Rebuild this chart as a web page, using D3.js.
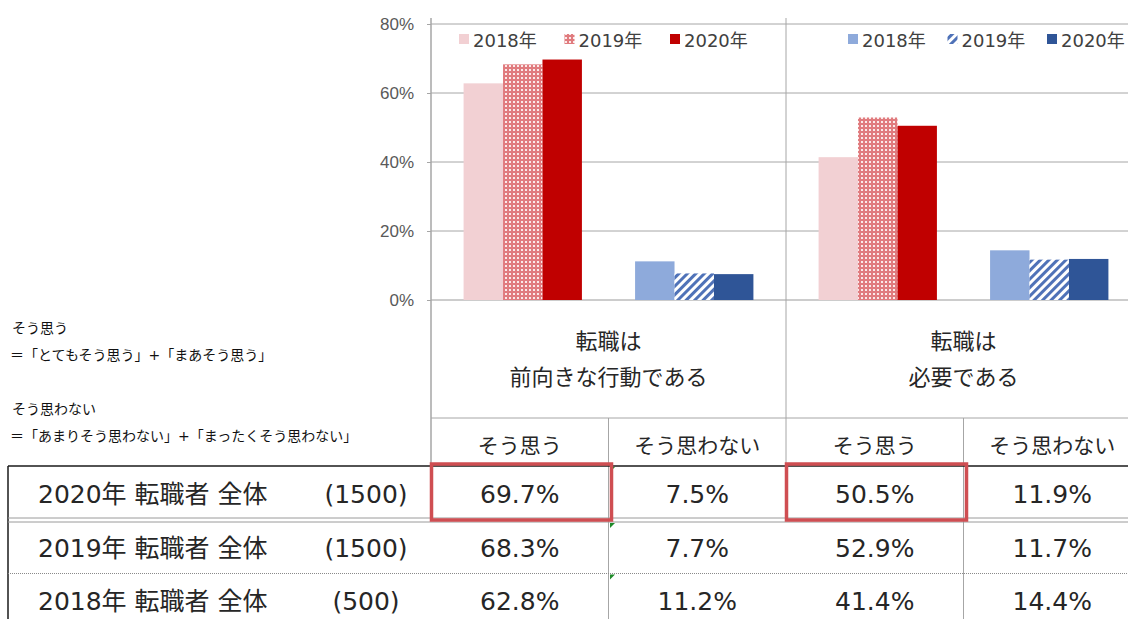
<!DOCTYPE html>
<html>
<head>
<meta charset="utf-8">
<script src="https://cdn.jsdelivr.net/npm/d3@7"></script>
<style>
  body { margin: 0; background: #fff; }
  svg { display: block; font-family: "DejaVu Sans", "Noto Sans CJK JP", sans-serif; }
</style>
</head>
<body>
<div id="chart"></div>
<script>
// questions (two panels) and answers (two clusters in each panel)
var questions = ['転職は前向きな行動である', '転職は必要である'];
var questionLines = [['転職は', '前向きな行動である'], ['転職は', '必要である']];
var answers = ['そう思う', 'そう思わない'];
var years = ['2018年', '2019年', '2020年'];

// values per column: Q1 そう思う, Q1 そう思わない, Q2 そう思う, Q2 そう思わない
var value2020 = [69.7, 7.5, 50.5, 11.9];
var value2019 = [68.3, 7.7, 52.9, 11.7];
var value2018 = [62.8, 11.2, 41.4, 14.4];

// table rows
var rowLabels = ['2020年 転職者 全体', '2019年 転職者 全体', '2018年 転職者 全体'];
var rowCounts = ['(1500)', '(1500)', '(500)'];
var yTicks = [0, 20, 40, 60, 80];

var noteLines = ['そう思う', '＝「とてもそう思う」+「まあそう思う」', 'そう思わない', '＝「あまりそう思わない」+「まったくそう思わない」'];

var width = 1128, height = 619;

var svg = d3.select('#chart')
  .append('svg')
  .attr('width', width)
  .attr('height', height);

var defs = svg.append('defs');

// dotted red pattern (2019, そう思う)
var pRed = defs.append('pattern')
  .attr('id', 'pat-red')
  .attr('patternUnits', 'userSpaceOnUse')
  .attr('width', 4).attr('height', 4);
pRed.append('rect').attr('width', 4).attr('height', 4).attr('fill', '#e07b7e');
pRed.append('rect').attr('x', 1).attr('y', 1).attr('width', 2).attr('height', 2).attr('fill', '#fbe9e9');

// diagonal blue pattern (2019, そう思わない)
var pBlue = defs.append('pattern')
  .attr('id', 'pat-blue')
  .attr('patternUnits', 'userSpaceOnUse')
  .attr('width', 6).attr('height', 6)
  .attr('patternTransform', 'rotate(45)');
pBlue.append('rect').attr('width', 6).attr('height', 6).attr('fill', '#ffffff');
pBlue.append('rect').attr('width', 3).attr('height', 6).attr('fill', '#4f72b8');

var colors = {
  'そう思う': ['#f2d0d3', 'url(#pat-red)', '#c00000'],
  'そう思わない': ['#8eaadb', 'url(#pat-blue)', '#2f5597']
};

// Scales
var x_q = d3.scaleBand().domain(questions).range([431, 1141]);
var x_a = d3.scaleBand().domain(answers).range([0, x_q.bandwidth()])
  .paddingInner(0.31).paddingOuter(0.19);
var x_y = d3.scaleBand().domain(years).range([0, x_a.bandwidth()]);
var y_scale = d3.scaleLinear().domain([0, 80]).range([300, 24]);

var columns = d3.range(4);
var x_col = d3.scaleBand().domain(columns).range([431, 1141]);

// gridlines
svg.append('g')
  .selectAll('line')
  .data(yTicks)
  .enter()
  .append('line')
  .attr('x1', 431).attr('x2', width)
  .attr('y1', function(d){ return y_scale(d); })
  .attr('y2', function(d){ return y_scale(d); })
  .attr('stroke', function(d){ return d === 0 ? '#9a9a9a' : '#a6a6a6'; })
  .attr('stroke-width', 1);

// y axis
var y_axis = d3.axisLeft(y_scale)
  .tickValues(yTicks)
  .tickSize(4)
  .tickPadding(13)
  .tickFormat(function(d){ return d + '%'; });
var yg = svg.append('g')
  .attr('transform', 'translate(431,0)')
  .call(y_axis);
yg.select('.domain').remove();
yg.selectAll('line').attr('stroke', '#a6a6a6');
yg.selectAll('text')
  .attr('fill', '#595959')
  .style('font-size', '17px');

// bars
function valuesFor(year) {
  if (year === '2018年') return value2018;
  if (year === '2019年') return value2019;
  return value2020;
}
var barData = [];
questions.forEach(function(q, qi){
  answers.forEach(function(a, ai){
    years.forEach(function(yr, yi){
      barData.push({q: q, a: a, yr: yr, yi: yi, v: valuesFor(yr)[qi * 2 + ai]});
    });
  });
});

svg.append('g').selectAll('rect')
  .data(barData)
  .enter()
  .append('rect')
  .attr('x', function(d){ return x_q(d.q) + x_a(d.a) + x_y(d.yr); })
  .attr('width', x_y.bandwidth())
  .attr('y', function(d){ return y_scale(d.v); })
  .attr('height', function(d){ return y_scale(0) - y_scale(d.v); })
  .attr('fill', function(d){ return colors[d.a][d.yi]; });

// structural lines: axis + panel divider
svg.append('line')
  .attr('x1', 431).attr('x2', 431).attr('y1', 18).attr('y2', 466)
  .attr('stroke', '#a6a6a6').attr('stroke-width', 1.5);
svg.append('line')
  .attr('x1', 786).attr('x2', 786).attr('y1', 18).attr('y2', 466)
  .attr('stroke', '#a6a6a6').attr('stroke-width', 1);

// legends
var legendStart = [459, 848];
var legendStep = [105.5, 99.5];
answers.forEach(function(a, i){
  var lg = svg.append('g');
  years.forEach(function(yr, yi){
    var lx = legendStart[i] + yi * legendStep[i];
    lg.append('rect')
      .attr('x', lx).attr('y', 34)
      .attr('width', 10).attr('height', 10)
      .attr('fill', colors[a][yi]);
    lg.append('text')
      .attr('x', lx + 14).attr('y', 47)
      .attr('fill', '#404040')
      .style('font-size', '18px')
      .text(yr);
  });
});

// category labels
svg.append('g').selectAll('text')
  .data(questions)
  .enter()
  .append('text')
  .attr('text-anchor', 'middle')
  .attr('fill', '#262626')
  .style('font-size', '22px')
  .each(function(d, i){
    var t = d3.select(this);
    questionLines[i].forEach(function(line, li){
      t.append('tspan')
        .attr('x', x_q(d) + x_q.bandwidth() / 2)
        .attr('y', 349 + li * 36)
        .text(line);
    });
  });

// notes on the left
svg.append('g').selectAll('text')
  .data(noteLines)
  .enter()
  .append('text')
  .attr('x', function(d, i){ return i % 2 ? 10 : 12; })
  .attr('y', function(d, i){ return [333, 360, 414, 441][i]; })
  .attr('fill', '#111')
  .style('font-size', '14px')
  .text(function(d){ return d; });

// table header
svg.append('line')
  .attr('x1', 431).attr('x2', width).attr('y1', 418).attr('y2', 418)
  .attr('stroke', '#a6a6a6');
svg.append('g').selectAll('line')
  .data([1, 3])
  .enter()
  .append('line')
  .attr('x1', function(d){ return x_col(d); })
  .attr('x2', function(d){ return x_col(d); })
  .attr('y1', 418).attr('y2', height)
  .attr('stroke', '#a6a6a6');
svg.append('g').selectAll('text')
  .data(columns)
  .enter()
  .append('text')
  .attr('x', function(d){ return x_col(d) + x_col.bandwidth() / 2; })
  .attr('y', 453)
  .attr('text-anchor', 'middle')
  .attr('fill', '#262626')
  .style('font-size', '21px')
  .text(function(d){ return answers[d % 2]; });

// table body lines
svg.append('line')
  .attr('x1', 8).attr('x2', width).attr('y1', 466).attr('y2', 466)
  .attr('stroke', '#1a1a1a').attr('stroke-width', 1.5);
svg.append('line')
  .attr('x1', 8).attr('x2', 8).attr('y1', 466).attr('y2', height)
  .attr('stroke', '#1a1a1a').attr('stroke-width', 1.5);
[518, 522].forEach(function(yy){
  svg.append('line')
    .attr('x1', 8).attr('x2', width).attr('y1', yy).attr('y2', yy)
    .attr('stroke', '#9a9a9a');
});
svg.append('line')
  .attr('x1', 8).attr('x2', width).attr('y1', 573.5).attr('y2', 573.5)
  .attr('stroke', '#8a8a8a').attr('stroke-dasharray', '1,1');

// green error markers
[[610, 467], [610, 523], [610, 574.5]].forEach(function(p){
  svg.append('path')
    .attr('d', 'M' + p[0] + ',' + p[1] + 'h5l-5,5z')
    .attr('fill', '#1f8a2a');
});

// table rows
var rowY = [503, 557, 610];
var rowValues = [value2020, value2019, value2018];
var rows = svg.append('g').selectAll('g')
  .data(rowLabels)
  .enter()
  .append('g');
rows.append('text')
  .attr('x', 38)
  .attr('y', function(d, i){ return rowY[i]; })
  .attr('fill', '#262626')
  .style('font-size', '25px')
  .text(function(d){ return d; });
rows.append('text')
  .attr('x', 366)
  .attr('y', function(d, i){ return rowY[i]; })
  .attr('text-anchor', 'middle')
  .attr('fill', '#262626')
  .style('font-size', '25px')
  .text(function(d, i){ return rowCounts[i]; });
rows.each(function(d, i){
  d3.select(this).selectAll('text.val')
    .data(rowValues[i])
    .enter()
    .append('text')
    .attr('class', 'val')
    .attr('x', function(v, ci){ return x_col(ci) + x_col.bandwidth() / 2; })
    .attr('y', rowY[i])
    .attr('text-anchor', 'middle')
    .attr('fill', '#262626')
    .style('font-size', '25px')
    .text(function(v){ return v.toFixed(1) + '%'; });
});

// red highlight boxes on 2020 そう思う
svg.append('g').selectAll('rect')
  .data([0, 2])
  .enter()
  .append('rect')
  .attr('x', function(d){ return x_col(d) + 0.5; })
  .attr('y', 464)
  .attr('width', 180)
  .attr('height', 56)
  .attr('fill', 'none')
  .attr('stroke', '#cf4e52')
  .attr('stroke-width', 3.5);
</script>
</body>
</html>
